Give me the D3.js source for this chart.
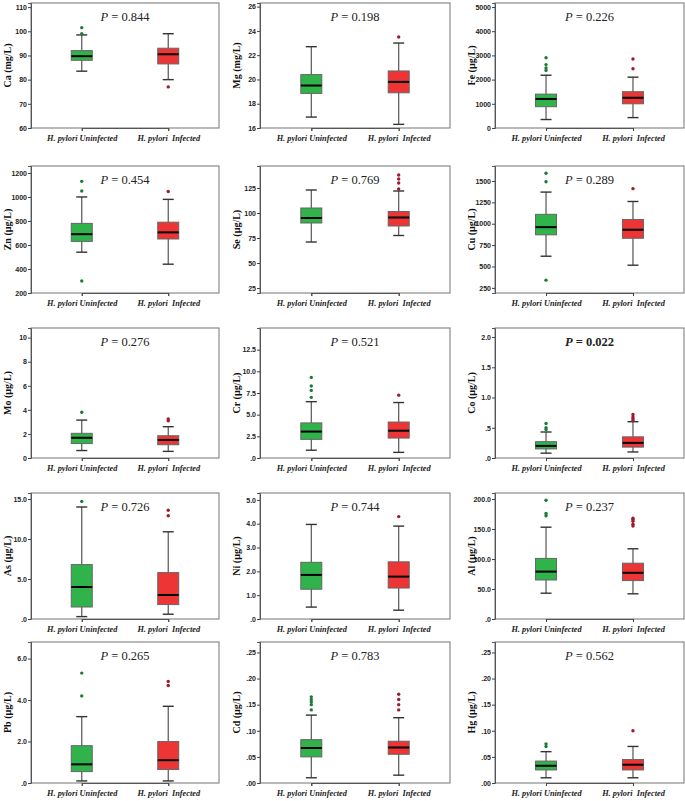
<!DOCTYPE html>
<html><head><meta charset="utf-8">
<script src="https://cdn.jsdelivr.net/npm/d3@7/dist/d3.min.js"></script>
<style>body{margin:0;background:#fff}svg{display:block}</style>
</head><body>
<svg id="chart" width="685" height="801"></svg>
<script>
const elements = ["Ca","Mg","Fe","Zn","Se","Cu","Mo","Cr","Co","As","Ni","Al","Pb","Cd","Hg"];
const units = ["mg/L","mg/L","\u00b5g/L","\u00b5g/L","\u00b5g/L","\u00b5g/L","\u00b5g/L","\u00b5g/L","\u00b5g/L","\u00b5g/L","\u00b5g/L","\u00b5g/L","\u00b5g/L","\u00b5g/L","\u00b5g/L"];
const pValues = ["0.844","0.198","0.226","0.454","0.769","0.289","0.276","0.521","0.022","0.726","0.744","0.237","0.265","0.783","0.562"];
const significant = [false,false,false,false,false,false,false,false,true,false,false,false,false,false,false];
const groups = ["H. pylori Uninfected","H. pylori  Infected"];
const yTickLabels = [
  ["60","70","80","90","100","110"],
  ["16","18","20","22","24","26"],
  ["0","1000","2000","3000","4000","5000"],
  ["200","400","600","800","1000","1200"],
  ["25","50","75","100","125"],
  ["250","500","750","1000","1250","1500"],
  ["0","2","4","6","8","10"],
  [".0","2.5","5.0","7.5","10.0","12.5"],
  [".0",".5","1.0","1.5","2.0"],
  [".0","5.0","10.0","15.0"],
  [".0","1.0","2.0","3.0","4.0","5.0"],
  [".0","50.0","100.0","150.0","200.0"],
  [".0","2.0","4.0","6.0"],
  [".00",".05",".10",".15",".20",".25"],
  [".00",".05",".10",".15",".20",".25"]
];
const yMin = [60,16,0,200,20,190,0,0,0,0,0,0,0,0,0];
const yMax = [111.7,26.3,5165,1258,147,1675,10.8,15.0,2.15,15.75,5.29,210,6.8,0.27,0.27];
// [lower whisker, Q1, median, Q3, upper whisker]
const uninfected = [
  [83.5,88,89.7,92,98.5],
  [16.9,18.85,19.5,20.4,22.7],
  [350,880,1200,1400,2180],
  [540,630,690,780,1000],
  [71,90,95,105,123],
  [620,870,960,1110,1370],
  [0.62,1.2,1.68,2.05,3.15],
  [0.9,2.15,3.05,4.05,6.5],
  [0.08,0.15,0.2,0.27,0.43],
  [0.3,1.5,4.0,6.8,14.0],
  [0.5,1.25,1.85,2.38,3.97],
  [43,65,79,101,153],
  [0.1,0.55,0.9,1.8,3.2],
  [0.01,0.05,0.067,0.083,0.13],
  [0.01,0.025,0.033,0.042,0.06]
];
const infected = [
  [80,86.5,90.5,93,99],
  [16.3,18.9,19.8,20.7,23],
  [430,1000,1250,1500,2100],
  [440,650,705,790,980],
  [77.5,87,95.5,101.5,122],
  [515,830,930,1050,1260],
  [0.55,1.1,1.5,1.85,2.6],
  [0.65,2.3,3.15,4.15,6.4],
  [0.1,0.18,0.25,0.35,0.6],
  [0.6,1.8,3.0,5.8,10.9],
  [0.37,1.3,1.78,2.4,3.9],
  [42,64,77,93,117],
  [0.1,0.65,1.1,2.0,3.7],
  [0.015,0.055,0.068,0.08,0.125],
  [0.01,0.025,0.035,0.045,0.07]
];
const uninfectedOutliers = [
  [101.5,99],[],[2380,2480,2620,2900],[1050,1130,300],[],[1490,1590,340],
  [3.8],[7.0,7.8,8.3,9.3],[0.47,0.5,0.57],[14.7],[],[172,176,198],
  [4.2,5.3],[0.14,0.15,0.155,0.16,0.165],[0.07,0.075]
];
const infectedOutliers = [
  [77],[23.5],[2450,2850],[1045],[124,130,134,138],[1410],
  [3.1,3.25],[7.25],[0.62,0.65,0.68,0.72],[12.9,13.6],[4.3],[155,158,163,166,168],
  [4.7,4.9],[0.14,0.15,0.16,0.17],[0.1]
];

const colLeft = [31, 260, 495];
const colRight = [219, 450, 684];
const rowTop = [3, 166, 328, 493, 642];
const rowBottom = [128, 293, 458, 619, 783];
const fills = ["#2fb34a", "#ee3535"];
const outlierColors = ["#1d7a38", "#9e1b2b"];

const svg = d3.select("#chart");

elements.forEach((el, i) => {
  const c = i % 3, r = Math.floor(i / 3);
  const x0 = colLeft[c], x1 = colRight[c], y0 = rowTop[r], y1 = rowBottom[r];
  const g = svg.append("g");
  const y = d3.scaleLinear().domain([yMin[i], yMax[i]]).range([y1, y0]);
  const w = x1 - x0;
  const x = d3.scalePoint().domain(groups).range([x0 + w * 0.27, x0 + w * 0.73]);

  g.append("rect").attr("x", x0).attr("y", y0).attr("width", w).attr("height", y1 - y0)
    .attr("fill", "#fff").attr("stroke", "#8a8a8a").attr("stroke-width", 1.2);

  const ticks = yTickLabels[i].map(Number);
  const yAxis = d3.axisLeft(y).tickValues(ticks).tickSize(3).tickPadding(1)
    .tickFormat((d, k) => yTickLabels[i][k]);
  const ya = g.append("g").attr("transform", `translate(${x0},0)`).call(yAxis);
  ya.select(".domain").attr("stroke", "#555");
  ya.selectAll("line").attr("stroke", "#444");
  ya.selectAll("text").attr("font-family", "Liberation Sans, Arial, sans-serif")
    .attr("font-weight", "bold").attr("font-size", 7).attr("fill", "#222");

  const xAxis = d3.axisBottom(x).tickSize(3).tickPadding(4);
  const xa = g.append("g").attr("transform", `translate(0,${y1})`).call(xAxis);
  xa.select(".domain").attr("stroke", "#555");
  xa.selectAll("line").attr("stroke", "#444");
  xa.selectAll("text").attr("font-family", "Liberation Serif, Times New Roman, serif")
    .attr("font-weight", "bold").attr("font-style", "italic").attr("font-size", 8.3)
    .attr("fill", "#222").style("white-space", "pre").attr("xml:space", "preserve");

  g.append("text").attr("transform", `translate(${x0 - 20},${(y0 + y1) / 2}) rotate(-90)`)
    .attr("text-anchor", "middle").attr("font-family", "Liberation Serif, Times New Roman, serif")
    .attr("font-weight", "bold").attr("font-size", 10).attr("fill", "#111")
    .text(`${el} (${units[i]})`);

  const t = g.append("text").attr("x", (x0 + x1) / 2).attr("y", y0 + 18)
    .attr("text-anchor", "middle").attr("font-family", "Liberation Serif, Times New Roman, serif")
    .attr("font-size", 12.5).attr("fill", "#222")
    .attr("font-weight", significant[i] ? "bold" : "normal");
  t.append("tspan").attr("font-style", "italic").text("P");
  t.append("tspan").text(" = " + pValues[i]);

  const stats = [uninfected[i], infected[i]];
  const outs = [uninfectedOutliers[i], infectedOutliers[i]];
  const bw = 21, cap = 11;
  groups.forEach((grp, k) => {
    const cx = x(grp), s = stats[k];
    g.append("line").attr("x1", cx).attr("x2", cx).attr("y1", y(s[0])).attr("y2", y(s[4]))
      .attr("stroke", "#555").attr("stroke-width", 1.2);
    [s[0], s[4]].forEach(v => g.append("line").attr("x1", cx - cap / 2).attr("x2", cx + cap / 2)
      .attr("y1", y(v)).attr("y2", y(v)).attr("stroke", "#333").attr("stroke-width", 1.4));
    g.append("rect").attr("x", cx - bw / 2).attr("y", y(s[3])).attr("width", bw)
      .attr("height", y(s[1]) - y(s[3])).attr("fill", fills[k]).attr("stroke", "#666").attr("stroke-width", 1);
    g.append("line").attr("x1", cx - bw / 2).attr("x2", cx + bw / 2).attr("y1", y(s[2])).attr("y2", y(s[2]))
      .attr("stroke", "#000").attr("stroke-width", 2);
    outs[k].forEach(v => g.append("circle").attr("cx", cx).attr("cy", y(v)).attr("r", 1.7)
      .attr("fill", outlierColors[k]));
  });
});
</script>
</body></html>
